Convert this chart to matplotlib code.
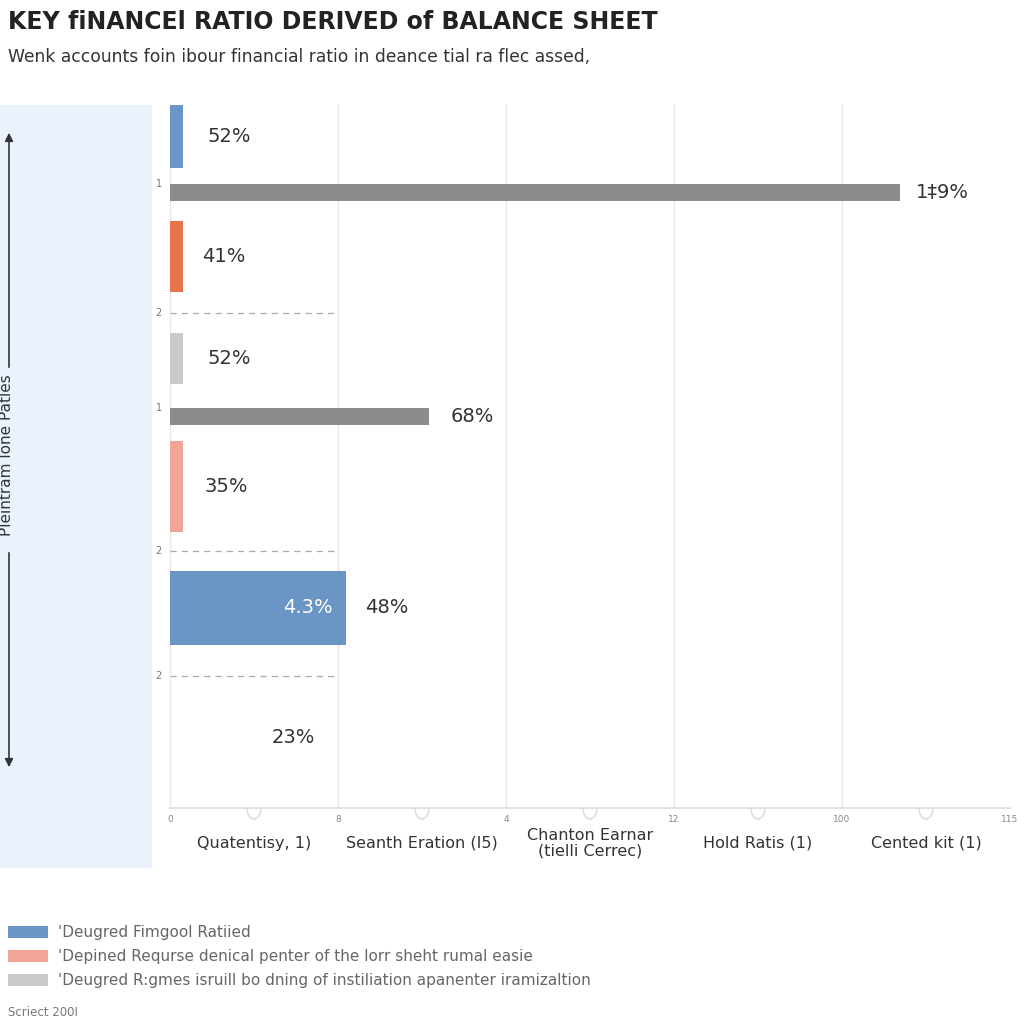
import numpy as np
import matplotlib.pyplot as plt
from matplotlib.patches import Rectangle, Arc, FancyArrowPatch

# dane wykresu
categories = ["Debt to Asset\nforration", "Quibk\nRatio ermonc\n(226)", "Curent Ratio s)",
              "Debt-to-Asset\nRatio (hirrewey", "Demn to Actte\nenguinent\nfor uiason",
              "Asw totales to\nfioils umone\n(145)"]
thin_vals = [2, 2, 2, 2, 26.2, 0]          # slupki przy kategoriach
thin_labels = ["52%", "41%", "52%", "35%", "48%", "23%"]
thin_colors = ["#6b95c5", "#e8744b", "#c9c9c9", "#f2a496", "#6b95c5", "#ffffff"]
wide_vals = [108.6, 38.5]                  # szare paski
wide_labels = ["1\u20219%", "68%"]
inner_label = "4.3%"
xtick_vals = [0, 25, 50, 75, 100, 125]
xtick_labels = ["0", "8", "4", "12", "100", "115"]
xcats = ["Quatentisy, 1)", "Seanth Eration (I5)", "Chanton Earnar\n(tielli Cerrec)",
         "Hold Ratis (1)", "Cented kit (1)"]
legend_labels = ["'Deugred Fimgool Ratiied",
                 "'Depined Requrse denical penter of the lorr sheht rumal easie",
                 "'Deugred R:gmes isruill bo dning of instiliation apanenter iramizaltion"]
legend_colors = ["#6b95c5", "#f2a496", "#c9c9c9"]

# uklad pionowy (w jednostkach osi 0-100, od gory)
thin_pos = [4.5, 21.6, 36.1, 54.3, 71.5, 90.0]
thin_h = [9.0, 10.1, 7.3, 12.9, 10.5, 0]
wide_pos = [12.5, 44.3]
dash_pos = [29.6, 63.4, 81.2]

fig = plt.figure(figsize=(10.24, 10.24), dpi=100)
fig.patch.set_facecolor("white")

# jasnoniebieski panel po lewej
fig.patches.append(Rectangle((0, 1 - 868/1024), 152/1024, (868-105)/1024,
                             transform=fig.transFigure, facecolor="#eaf3fb",
                             edgecolor="none", zorder=0))

ax = fig.add_axes([170/1024, 1 - 808/1024, 840/1024, 703/1024])
ax.set_xlim(0, 125)
ax.set_ylim(100, 0)
ax.set_facecolor("none")
for s in ["top", "right", "left"]:
    ax.spines[s].set_visible(False)
ax.spines["bottom"].set_color("#e3e3e3")
ax.spines["bottom"].set_linewidth(1.5)
ax.set_yticks([])
ax.set_xticks(xtick_vals)
ax.set_xticklabels(xtick_labels, fontsize=6.5, color="#888888")
ax.tick_params(axis="x", length=0, pad=5)
for xv in xtick_vals[1:-1]:
    ax.axvline(xv, color="#e8e8e8", lw=1, zorder=0)
ax.axvline(0, color="#e8e8e8", lw=1, zorder=0)

ax.barh(thin_pos, thin_vals, height=thin_h, color=thin_colors, align="center", zorder=2)
ax.barh(wide_pos, wide_vals, height=2.4, color="#8c8c8c", align="center", zorder=2)

# etykiety wartosci
label_x = [8.8, 8.0, 8.8, 8.3, 32.3, 18.3]
for y, x, t in zip(thin_pos, label_x, thin_labels):
    ax.text(x, y, t, ha="center", va="center", fontsize=14, color="#333333")
ax.text(20.5, thin_pos[4], inner_label, ha="center", va="center", fontsize=14, color="white")
ax.text(115, wide_pos[0], wide_labels[0], ha="center", va="center", fontsize=14, color="#333333")
ax.text(45, wide_pos[1], wide_labels[1], ha="center", va="center", fontsize=14, color="#333333")

for y in wide_pos:
    ax.text(-1.2, y - 1.2, "1", ha="right", va="center", fontsize=7, color="#777777")
for y in dash_pos:
    ax.plot([0, 25], [y, y], ls=(0, (5, 4)), color="#aaaaaa", lw=0.9, zorder=1)
    ax.text(-1.2, y, "2", ha="right", va="center", fontsize=7, color="#777777")

# nazwy kategorii po lewej
for y, c in zip(thin_pos, categories):
    ax.text(-4, y, c, ha="right", va="center", fontsize=12, color="#222222",
            linespacing=1.25)

# kategorie na dole i luki
for i, c in enumerate(xcats):
    xc = 12.5 + 25 * i
    ax.text(xc, 105, c, ha="center", va="center", fontsize=11.5, color="#333333", linespacing=1.1)
    px = (170 + xc * 840/125) / 1024
    fig.patches.append(Arc((px, 1 - 808/1024), 14/1024, 22/1024, theta1=180, theta2=360,
                           transform=fig.transFigure, color="#dddddd", lw=1.2))

# strzalki i opis osi
fig.patches.append(FancyArrowPatch((9/1024, 1 - 370/1024), (9/1024, 1 - 130/1024),
                                   transform=fig.transFigure, arrowstyle="-|>",
                                   mutation_scale=12, color="#333333", lw=1.2))
fig.patches.append(FancyArrowPatch((9/1024, 1 - 550/1024), (9/1024, 1 - 770/1024),
                                   transform=fig.transFigure, arrowstyle="-|>",
                                   mutation_scale=12, color="#333333", lw=1.2))
fig.text(7/1024, 1 - 455/1024, "Pleintram lone Patles", rotation=90, ha="center",
         va="center", fontsize=11, color="#333333")

# tytul
fig.text(8/1024, 1 - 22/1024, "KEY fiNANCEl RATIO DERIVED of BALANCE SHEET",
         fontsize=17, fontweight="bold", color="#222222", ha="left", va="center")
fig.text(8/1024, 1 - 57/1024,
         "Wenk accounts foin ibour financial ratio in deance tial ra flec assed,",
         fontsize=12.3, color="#333333", ha="left", va="center")

# legenda
for i, (lab, col) in enumerate(zip(legend_labels, legend_colors)):
    yy = 1 - (932 + 24 * i) / 1024
    fig.patches.append(Rectangle((8/1024, yy - 6/1024), 40/1024, 12/1024,
                                 transform=fig.transFigure, facecolor=col, edgecolor="none"))
    fig.text(58/1024, yy, lab, fontsize=11, color="#666666", ha="left", va="center")
fig.text(8/1024, 1 - 1012/1024, "Scriect 200I", fontsize=8.5, color="#777777",
         ha="left", va="center")

fig.savefig("out.png", dpi=100)
